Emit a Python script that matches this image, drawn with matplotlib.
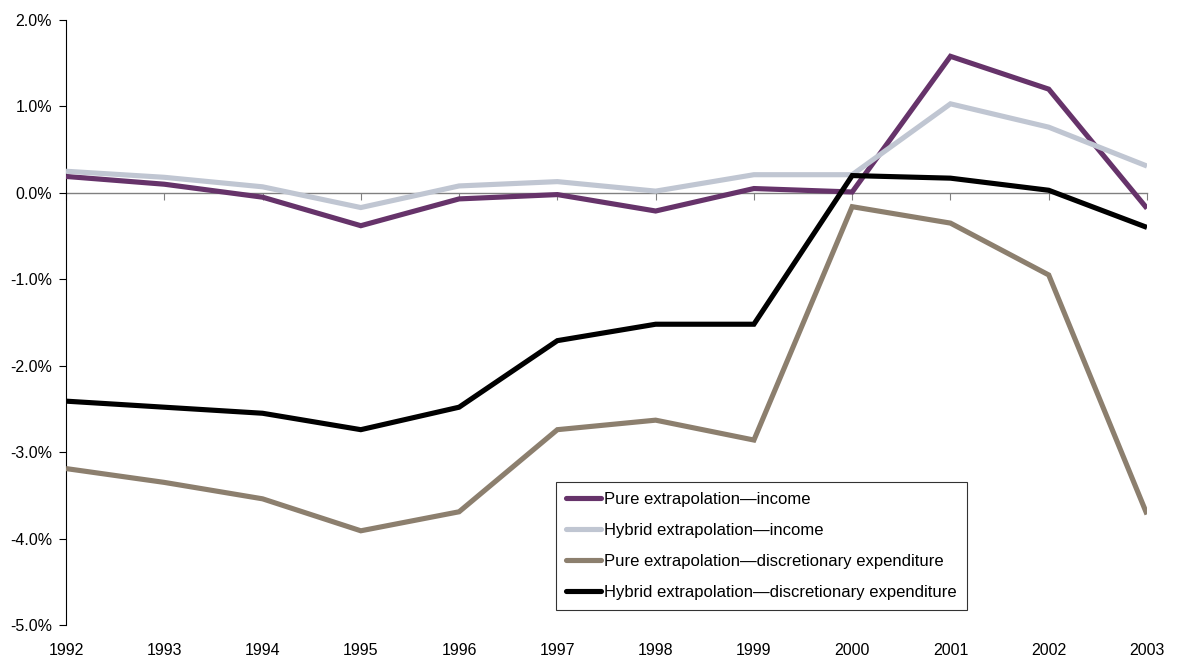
import matplotlib
matplotlib.use("Agg")
import matplotlib.pyplot as plt
from matplotlib.ticker import FuncFormatter

plt.rcParams['font.family'] = ['Liberation Sans', 'DejaVu Sans']

years = [1992, 1993, 1994, 1995, 1996, 1997, 1998, 1999, 2000, 2001, 2002, 2003]
pure_income = [0.19, 0.10, -0.05, -0.38, -0.07, -0.02, -0.21, 0.05, 0.01, 1.58, 1.20, -0.18]
hybrid_income = [0.25, 0.18, 0.07, -0.17, 0.08, 0.13, 0.02, 0.21, 0.21, 1.03, 0.76, 0.31]
pure_disc = [-3.19, -3.35, -3.54, -3.91, -3.69, -2.74, -2.63, -2.86, -0.16, -0.35, -0.95, -3.72]
hybrid_disc = [-2.41, -2.48, -2.55, -2.74, -2.48, -1.71, -1.52, -1.52, 0.20, 0.17, 0.03, -0.40]

labels = ["Pure extrapolation\u2014income",
          "Hybrid extrapolation\u2014income",
          "Pure extrapolation\u2014discretionary expenditure",
          "Hybrid extrapolation\u2014discretionary expenditure"]
colors = ["#66336a", "#c0c6d2", "#8c7f6e", "#000000"]
series = [pure_income, hybrid_income, pure_disc, hybrid_disc]

ymin, ymax = -5.0, 2.0

fig = plt.figure(figsize=(11.79, 6.6), dpi=100)
ax = fig.add_axes([66/1179, 35/660, (1147-66)/1179, (625-20)/660])

for vals, col, lab in zip(series, colors, labels):
    ax.plot(years, vals, color=col, lw=3.7, label=lab, solid_joinstyle='miter',
            solid_capstyle='butt', zorder=3)

ax.set_xlim(years[0], years[-1])
ax.set_ylim(ymin, ymax)
ax.set_yticks([2, 1, 0, -1, -2, -3, -4, -5])
ax.yaxis.set_major_formatter(FuncFormatter(lambda v, p: f"{v:.1f}%"))
ax.tick_params(axis='y', direction='out', length=5, width=0.8, labelsize=11.5, pad=5)

for s in ['top', 'right', 'bottom']:
    ax.spines[s].set_visible(False)
ax.spines['left'].set_color('black')
ax.spines['left'].set_linewidth(0.8)

ax.set_xticks(years)
ax.set_xticklabels([str(y) for y in years])
ax.tick_params(axis='x', length=0, labelsize=11.5, pad=13)

# category axis crossing at 0
zero_frac = (0 - ymin) / (ymax - ymin)
sec = ax.secondary_xaxis(zero_frac)
sec.set_alignment('bottom')
sec.set_xticks(years)
sec.set_xticklabels([])
sec.tick_params(axis='x', direction='out', length=5, width=0.8, color='#808080')
sec.spines['bottom'].set_color('#808080')
sec.spines['bottom'].set_linewidth(1.0)
sec.set_zorder(1)

leg = ax.legend(loc='upper left', bbox_to_anchor=((556-66)/1081, 1 - (482-20)/605),
                frameon=True, fancybox=False, fontsize=12, handlelength=2.1,
                handletextpad=0.2, labelspacing=0.95, borderpad=0.6, borderaxespad=0)
leg.get_frame().set_edgecolor('black')
leg.get_frame().set_linewidth(0.8)
leg.set_zorder(5)
for h in leg.get_lines():
    h.set_linewidth(3.7)
    h.set_solid_capstyle('round')

fig.savefig("out.png", dpi=100, facecolor='white')
